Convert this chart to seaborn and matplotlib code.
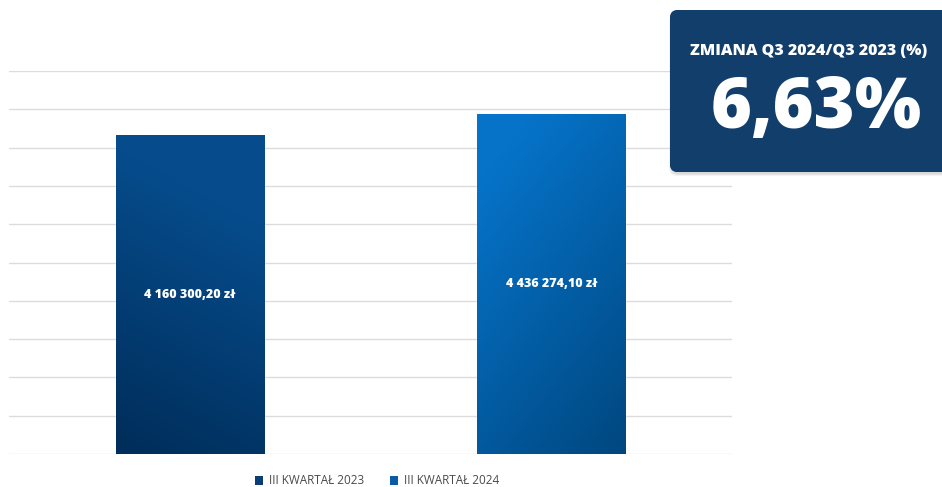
import numpy as np
import pandas as pd
import matplotlib
matplotlib.use("Agg")
import matplotlib.pyplot as plt
import seaborn as sns
from matplotlib.colors import LinearSegmentedColormap
from matplotlib.patches import FancyBboxPatch, Patch

# Quarterly totals (PLN)
categories = ["III KWARTAŁ 2023", "III KWARTAŁ 2024"]
values = [4160300.20, 4436274.10]
value_labels = ["4 160 300,20 zł", "4 436 274,10 zł"]
box_title = "ZMIANA Q3 2024/Q3 2023 (%)"

# Gradient endpoints per bar: (light, dark)
bar_gradients = [("#064c8c", "#002d59"), ("#0673c9", "#00477f")]
legend_colors = ["#0b3e72", "#0a5ba6"]

sns.set_theme(style="white")
plt.rcParams["font.family"] = ["Open Sans", "DejaVu Sans"]

fig = plt.figure(figsize=(9.42, 4.87), dpi=100)
ax = fig.add_axes([9 / 942, 33 / 487, 723 / 942, 383 / 487])

df = pd.DataFrame({"kategoria": categories, "wartosc": values})
sns.barplot(data=df, x="kategoria", y="wartosc", hue="kategoria",
            palette=legend_colors, width=0.41, legend=False, ax=ax,
            saturation=1, zorder=2)

ymax = 5_000_000
ax.set_ylim(0, ymax)
ax.set_xlim(-0.5, 1.5)
ax.set_yticks(np.arange(0, ymax + 1, 500_000))
ax.yaxis.grid(True, color="#dcdcdc", linewidth=1.0, zorder=0)
ax.set_axisbelow(True)
ax.set_xticks([])
ax.set_yticklabels([])
ax.tick_params(left=False, bottom=False)
ax.set_xlabel("")
ax.set_ylabel("")
for s in ax.spines.values():
    s.set_visible(False)

# Diagonal gradient fill for each bar
yy, xx = np.mgrid[0:1:200j, 0:1:200j]
for i, patch in enumerate(ax.patches):
    x0, y0 = patch.get_x(), patch.get_y()
    w, h = patch.get_width(), patch.get_height()
    light, dark = bar_gradients[i]
    cmap = LinearSegmentedColormap.from_list(f"g{i}", [dark, light])
    if i == 0:
        t = np.clip((yy * 0.8 + xx * 0.2) * 1.3, 0, 1)
    else:
        t = np.clip((yy * 0.65 + (1 - xx) * 0.35) * 1.15, 0, 1)
    img = ax.imshow(t, cmap=cmap, origin="lower", aspect="auto",
                    extent=[x0, x0 + w, y0, y0 + h], zorder=3, vmin=0, vmax=1)
    img.set_clip_path(patch)
    ax.text(x0 + w / 2, y0 + h / 2, value_labels[i], ha="center", va="center",
            color="white", fontsize=9, fontweight=800, zorder=4)

ax.set_ylim(0, ymax)
ax.set_xlim(-0.5, 1.5)

# Legend
handles = [Patch(facecolor=c, edgecolor="none", label=l)
           for c, l in zip(legend_colors, categories)]
fig.legend(handles=handles, loc="center", bbox_to_anchor=(377 / 942, 6 / 487),
           ncol=2, frameon=False, handlelength=0.7, handleheight=0.7,
           handletextpad=0.5, columnspacing=2.2, fontsize=8.5,
           labelcolor="#4a4a4a")

# Change box in the top-right corner
change = (values[1] / values[0] - 1) * 100
change_text = f"{change:.2f}%".replace(".", ",")

bw, bh = 300, 162
bax = fig.add_axes([670 / 942, (487 - 172) / 487, bw / 942, bh / 487])
bax.set_xlim(0, bw)
bax.set_ylim(0, bh)
bax.axis("off")
for k, a in enumerate([0.05, 0.05, 0.05]):
    sh = FancyBboxPatch((1 - k, -2 - k), bw, bh, boxstyle="round,pad=0,rounding_size=8",
                        facecolor="#000000", edgecolor="none", alpha=a,
                        clip_on=False)
    bax.add_patch(sh)
box = FancyBboxPatch((0, 0), bw, bh, boxstyle="round,pad=0,rounding_size=8",
                     facecolor="#123e6c", edgecolor="none", clip_on=False)
bax.add_patch(box)
bcmap = LinearSegmentedColormap.from_list("box", ["#0a2a50", "#1d5386"])
tb = yy * 0.7 + (1 - xx) * 0.3
bimg = bax.imshow(tb, cmap=bcmap, origin="lower", aspect="auto",
                  extent=[0, bw, 0, bh], vmin=0, vmax=1)
bimg.set_clip_path(box)
bax.set_xlim(0, bw)
bax.set_ylim(0, bh)
bax.text(139, 121, box_title, ha="center", va="center", color="white",
         fontsize=11.5, fontweight=800)
bax.text(146, 63, change_text, ha="center", va="center", color="white",
         fontsize=50.5, fontweight=800)

fig.savefig("out.png", dpi=100)
